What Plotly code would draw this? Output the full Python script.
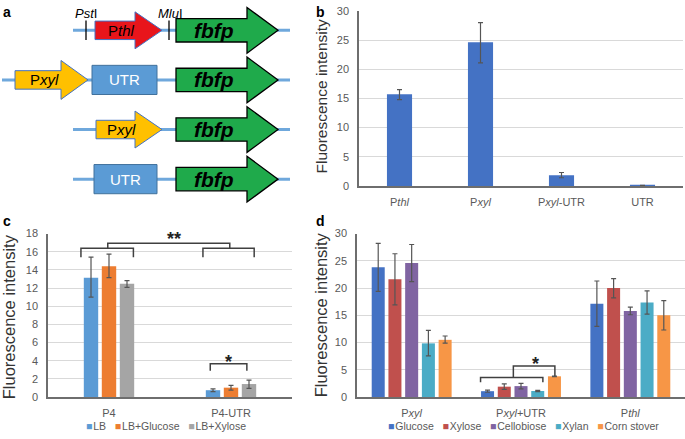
import plotly.graph_objects as go

W, H = 685, 439
FONT = "Liberation Sans, Arial, sans-serif"
TICK = "#595959"
GRID = "#D9D9D9"
AXIS = "#6E6E6E"
ERR = "#555555"

# --- panel b ---
b_cats = ["Pthl", "Pxyl", "Pxyl-UTR", "UTR"]
b_ticktext = ["P<i>thl</i>", "P<i>xyl</i>", "P<i>xyl</i>-UTR", "UTR"]
b_values = [15.7, 24.6, 1.85, 0.05]
b_err_up = [0.8, 3.4, 0.45, 0.04]
b_err_dn = [0.9, 3.5, 0.45, 0.04]

# --- panel c ---
c_cats = ["P4", "P4-UTR"]
c_names = ["LB", "LB+Glucose", "LB+Xylose"]
c_colors = ["#5B9BD5", "#ED7D31", "#A5A5A5"]
c_lb = [13.15, 0.75]
c_glucose = [14.4, 1.03]
c_xylose = [12.47, 1.43]
c_lb_up, c_lb_dn = [2.25, 0.15], [2.15, 0.15]
c_glucose_up, c_glucose_dn = [1.35, 0.25], [1.25, 0.28]
c_xylose_up, c_xylose_dn = [0.36, 0.42], [0.39, 0.47]

# --- panel d ---
d_cats = ["Pxyl", "Pxyl+UTR", "Pthl"]
d_ticktext = ["P<i>xyl</i>", "P<i>xyl</i>+UTR", "P<i>thl</i>"]
d_names = ["Glucose", "Xylose", "Cellobiose", "Xylan", "Corn stover"]
d_colors = ["#4472C4", "#C0504D", "#8064A2", "#4BACC6", "#F79646"]
d_glucose = [23.8, 1.07, 17.1]
d_xylose = [21.6, 1.9, 20.0]
d_cellobiose = [24.6, 2.0, 15.8]
d_xylan = [9.85, 1.1, 17.35]
d_corn = [10.5, 3.8, 15.0]
d_glucose_up, d_glucose_dn = [4.4, 0.2, 4.2], [4.4, 0.2, 4.15]
d_xylose_up, d_xylose_dn = [4.7, 0.5, 1.75], [4.7, 0.5, 1.8]
d_cellobiose_up, d_cellobiose_dn = [3.4, 0.5, 0.7], [3.4, 0.5, 0.7]
d_xylan_up, d_xylan_dn = [2.4, 0.1, 2.15], [2.3, 0.1, 2.15]
d_corn_up, d_corn_dn = [0.7, 0.05, 2.7], [0.6, 0.05, 2.7]


def px(x):
    return x / W


def py(y):
    return 1 - y / H


fig = go.Figure()

# panel b bars
fig.add_trace(go.Bar(
    x=b_cats, y=b_values, xaxis="x", yaxis="y",
    marker=dict(color="#4472C4", line=dict(width=0)),
    width=0.31, offset=-0.155,
    error_y=dict(type="data", array=b_err_up, arrayminus=b_err_dn,
                 color=ERR, thickness=1.2, width=2.5),
    showlegend=False,
))

# panel c bars
c_vals = [c_lb, c_glucose, c_xylose]
c_up = [c_lb_up, c_glucose_up, c_xylose_up]
c_dn = [c_lb_dn, c_glucose_dn, c_xylose_dn]
c_step, c_w = 0.1475, 0.118
for i, name in enumerate(c_names):
    fig.add_trace(go.Bar(
        x=c_cats, y=c_vals[i], name=name, xaxis="x2", yaxis="y2",
        marker=dict(color=c_colors[i], line=dict(width=0)),
        width=c_w, offset=(i - 1) * c_step - c_w / 2,
        error_y=dict(type="data", array=c_up[i], arrayminus=c_dn[i],
                     color=ERR, thickness=1.2, width=2.5),
        showlegend=False,
    ))

# panel d bars
d_vals = [d_glucose, d_xylose, d_cellobiose, d_xylan, d_corn]
d_up = [d_glucose_up, d_xylose_up, d_cellobiose_up, d_xylan_up, d_corn_up]
d_dn = [d_glucose_dn, d_xylose_dn, d_cellobiose_dn, d_xylan_dn, d_corn_dn]
d_step, d_w = 0.153, 0.119
for i, name in enumerate(d_names):
    fig.add_trace(go.Bar(
        x=d_cats, y=d_vals[i], name=name, xaxis="x3", yaxis="y3",
        marker=dict(color=d_colors[i], line=dict(width=0)),
        width=d_w, offset=(i - 2) * d_step - d_w / 2,
        error_y=dict(type="data", array=d_up[i], arrayminus=d_dn[i],
                     color=ERR, thickness=1.2, width=2.5),
        showlegend=False,
    ))

# dummy trace so the schematic axes exist
fig.add_trace(go.Scatter(x=[0], y=[0], xaxis="x4", yaxis="y4", mode="markers",
                         marker=dict(opacity=0), hoverinfo="skip", showlegend=False))


def yax(dom, rng, dtick):
    return dict(domain=dom, range=rng, dtick=dtick, showgrid=True, gridcolor=GRID,
                gridwidth=1, showline=True, linecolor=AXIS, linewidth=1.5,
                zeroline=False, ticks="", ticklabelstandoff=6,
                tickfont=dict(family=FONT, size=11, color=TICK), fixedrange=True)


def xax(dom, rng, yref, cats, text):
    return dict(domain=dom, range=rng, anchor=yref, type="category",
                categoryorder="array", categoryarray=cats,
                tickvals=cats, ticktext=text, showgrid=False,
                showline=True, linecolor=AXIS, linewidth=1.5, ticks="",
                ticklabelstandoff=5,
                tickfont=dict(family=FONT, size=11, color=TICK), fixedrange=True)


fig.update_layout(
    width=W, height=H,
    margin=dict(l=0, r=0, t=0, b=0),
    paper_bgcolor="white", plot_bgcolor="white",
    barmode="overlay",
    font=dict(family=FONT, color="black"),
    xaxis=xax([px(359), px(683)], [-0.5, 3.5], "y", b_cats, b_ticktext),
    yaxis=yax([py(185), py(5)], [0, 30], 5) | dict(anchor="x"),
    xaxis2=xax([px(48), px(292)], [-0.5, 1.5], "y2", c_cats, c_cats),
    yaxis2=yax([py(402), py(234)], [0, 18], 2) | dict(anchor="x2"),
    xaxis3=xax([px(357), px(685)], [-0.5, 2.5], "y3", d_cats, d_ticktext),
    yaxis3=yax([py(402), py(234)], [0, 30], 5) | dict(anchor="x3"),
    xaxis4=dict(domain=[0, px(300)], range=[0, 300], visible=False, anchor="y4",
                fixedrange=True),
    yaxis4=dict(domain=[py(210), 1], range=[210, 0], visible=False, anchor="x4",
                fixedrange=True),
)

# --- schematic (panel a) ---
shapes = []
ann = []
LINE_C = "#6FA8DC"


def arrow_path(x0, neck, tip, cy, body, head):
    return (f"M{x0},{cy - body} L{neck},{cy - body} L{neck},{cy - head} L{tip},{cy} "
            f"L{neck},{cy + head} L{neck},{cy + body} L{x0},{cy + body} Z")


def sch_shape(**kw):
    d = dict(xref="x4", yref="y4", layer="above")
    d.update(kw)
    shapes.append(d)


def sch_text(x, y, text, size, color="black", **kw):
    ann.append(dict(xref="x4", yref="y4", x=x, y=y, text=text, showarrow=False,
                    font=dict(family=FONT, size=size, color=color),
                    xanchor="center", yanchor="middle", **kw))


rows = [25, 76, 127, 178]
starts = [73, 2, 73, 73]
for cy, x0 in zip(rows, starts):
    sch_shape(type="line", x0=x0, x1=290, y0=cy, y1=cy, line=dict(color=LINE_C, width=3))

# row 1
cy = rows[0]
sch_shape(type="line", x0=86, x1=86, y0=cy - 10, y1=cy + 10, line=dict(color="black", width=1.3))
sch_shape(type="line", x0=169, x1=169, y0=cy - 10, y1=cy + 10, line=dict(color="black", width=1.3))
sch_shape(type="path", path=arrow_path(95, 135, 162, cy, 9.5, 19), fillcolor="#E8151B",
          line=dict(color="#4472C4", width=1))
sch_text(121, cy, "P<i>thl</i>", 15)
sch_text(86, 8, "<i>Pst</i>I", 13)
sch_text(170, 8, "<i>Mlu</i>I", 13)

# row 2
cy = rows[1]
sch_shape(type="path", path=arrow_path(15, 61, 88, cy, 9.5, 20), fillcolor="#FFC000",
          line=dict(color="#4472C4", width=1))
sch_text(44, cy, "P<i>xyl</i>", 15)
sch_shape(type="rect", x0=92, x1=157, y0=cy - 15, y1=cy + 15, fillcolor="#5B9BD5",
          line=dict(color="#41719C", width=1))
sch_text(124.5, cy, "UTR", 15, "white")

# row 3
cy = rows[2]
sch_shape(type="path", path=arrow_path(96, 135, 162, cy, 9.5, 19), fillcolor="#FFC000",
          line=dict(color="#4472C4", width=1))
sch_text(121, cy, "P<i>xyl</i>", 15)

# row 4
cy = rows[3]
sch_shape(type="rect", x0=94, x1=157, y0=cy - 15, y1=cy + 15, fillcolor="#5B9BD5",
          line=dict(color="#41719C", width=1))
sch_text(125.5, cy, "UTR", 15, "white")

for cy in rows:
    sch_shape(type="path", path=arrow_path(176, 247, 278, cy, 12, 23.5), fillcolor="#1FAA4B",
              line=dict(color="black", width=1.3))
    sch_text(214, cy, "<b><i>fbfp</i></b>", 21)

# --- significance brackets ---
BR = dict(color="#404040", width=1.5)


def bracket(xr, yr, pts):
    path = "M" + " L".join(f"{x},{y}" for x, y in pts)
    shapes.append(dict(type="path", path=path, xref=xr, yref=yr, line=BR,
                       layer="above"))


STAR = dict(family=FONT, size=18, color="#222222")

# panel c
bracket("x2", "y2", [(-0.23, 15.4), (-0.23, 16.4), (0.2, 16.4), (0.2, 15.4)])
bracket("x2", "y2", [(0.77, 15.4), (0.77, 16.4), (1.19, 16.4), (1.19, 15.4)])
bracket("x2", "y2", [(-0.01, 16.4), (-0.01, 16.95), (0.99, 16.95), (0.99, 16.4)])
bracket("x2", "y2", [(0.83, 2.9), (0.83, 3.65), (1.13, 3.65), (1.13, 2.9)])
ann.append(dict(xref="x2", yref="y2", x=0.53, y=17.2, text="<b>**</b>", showarrow=False,
                font=STAR, yanchor="bottom", yshift=-10))
ann.append(dict(xref="x2", yref="y2", x=0.98, y=3.8, text="<b>*</b>", showarrow=False,
                font=STAR, yanchor="bottom", yshift=-11))

# panel d
bracket("x3", "y3", [(0.63, 2.7), (0.63, 3.6), (1.2, 3.6), (1.2, 2.7)])
bracket("x3", "y3", [(0.93, 3.6), (0.93, 5.7), (1.31, 5.7), (1.31, 3.85)])
ann.append(dict(xref="x3", yref="y3", x=1.13, y=5.9, text="<b>*</b>", showarrow=False,
                font=STAR, yanchor="bottom", yshift=-11))

# --- axis titles ---
for x, y, size in [(321, 93, 15.5), (9, 320, 16.5), (321, 318, 16.5)]:
    ann.append(dict(xref="paper", yref="paper", x=px(x), y=py(y), text="Fluorescence intensity",
                    textangle=-90, showarrow=False, xanchor="center", yanchor="middle",
                    font=dict(family=FONT, size=size, color="#333333")))

# --- panel letters ---
for x, y, t in [(7, 6, "a"), (320, 6, "b"), (7, 221, "c"), (320, 221, "d")]:
    ann.append(dict(xref="paper", yref="paper", x=px(x), y=py(y), text=f"<b>{t}</b>",
                    showarrow=False, xanchor="center", yanchor="middle",
                    font=dict(family=FONT, size=14, color="black")))


# --- legends (compact, as in the original) ---
def legend_text(names, colors):
    parts = [f'<span style="color:{c}">■</span>\u200a{n}' for n, c in zip(names, colors)]
    return "\u00a0\u00a0\u00a0".join(parts)


ann.append(dict(xref="paper", yref="paper", x=px(166), y=py(432),
                text=legend_text(c_names, c_colors), showarrow=False,
                xanchor="center", yanchor="middle",
                font=dict(family=FONT, size=10.5, color=TICK)))
ann.append(dict(xref="paper", yref="paper", x=px(523), y=py(432),
                text=legend_text(d_names, d_colors), showarrow=False,
                xanchor="center", yanchor="middle",
                font=dict(family=FONT, size=10.5, color=TICK)))

fig.update_layout(shapes=shapes, annotations=ann)

fig.write_html("out.html", config={"displayModeBar": False},
               post_script="document.body.style.margin='0';")
